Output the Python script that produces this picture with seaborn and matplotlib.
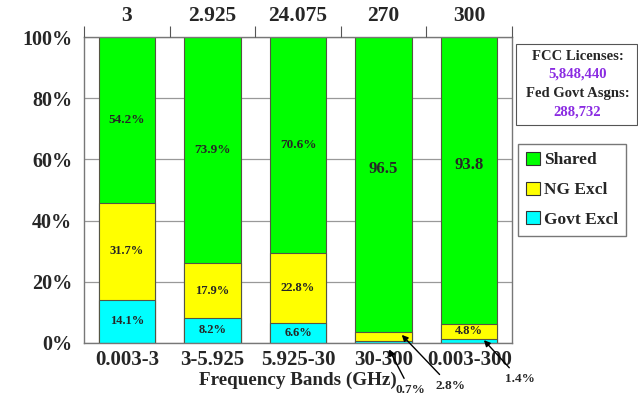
import numpy as np
import pandas as pd
import seaborn as sns
import matplotlib.pyplot as plt

bands = ['0.003-3', '3-5.925', '5.925-30', '30-300', '0.003-300']
widths = ['3', '2.925', '24.075', '270', '300']
govt_excl = [14.1, 8.2, 6.6, 0.7, 1.4]
ng_excl = [31.7, 17.9, 22.8, 2.8, 4.8]
shared = [54.2, 73.9, 70.6, 96.5, 93.8]
shared_labels = ['54.2%', '73.9%', '70.6%', '96.5', '93.8']
ng_labels = ['31.7%', '17.9%', '22.8%', '', '4.8%']
govt_labels = ['14.1%', '8.2%', '6.6%', '', '']

sns.set_style("white")
plt.rcParams['font.family'] = ['Liberation Serif', 'DejaVu Serif']
plt.rcParams['font.weight'] = 'bold'

df = pd.DataFrame({'band': bands, 'govt': govt_excl, 'ng': ng_excl, 'shared': shared})
df['ng_top'] = df['govt'] + df['ng']
df['total'] = df['ng_top'] + df['shared']

fig = plt.figure(figsize=(6.38, 3.99), dpi=100)
ax = fig.add_axes([0.1317, 0.1404, 0.6708, 0.7666])
ax.set_axisbelow(True)
ax.yaxis.grid(True, color='#999999', linewidth=0.9)

edge = '#555544'
bw = 0.66
sns.barplot(data=df, x='band', y='total', color='#00ff00', width=bw, saturation=1,
            edgecolor=edge, linewidth=0.8, ax=ax)
sns.barplot(data=df, x='band', y='ng_top', color='#ffff00', width=bw, saturation=1,
            edgecolor=edge, linewidth=0.8, ax=ax)
sns.barplot(data=df, x='band', y='govt', color='#00ffff', width=bw, saturation=1,
            edgecolor=edge, linewidth=0.8, ax=ax)

ax.set_xlim(-0.5, 4.5)
ax.set_ylim(0, 100)
ax.set_yticks(np.arange(0, 101, 20))
ax.set_yticklabels([f'{v}%' for v in range(0, 101, 20)], fontsize=14.5, fontweight='bold')
ax.tick_params(axis='y', direction='inout', length=9, color='#555555', pad=4)
ax.tick_params(axis='x', length=0, labelsize=15, pad=5)
for t in ax.get_xticklabels():
    t.set_fontweight('bold')
ax.set_xlabel('Frequency Bands (GHz)', fontsize=13.8, fontweight='bold', labelpad=1)
ax.set_ylabel('')
for s in ax.spines.values():
    s.set_color('#777777')
    s.set_linewidth(1.0)

# segment labels
for i in range(len(bands)):
    ax.text(i, govt_excl[i] / 2, govt_labels[i], ha='center', va='center', fontsize=9, fontweight='bold')
    ax.text(i, govt_excl[i] + ng_excl[i] / 2, ng_labels[i], ha='center', va='center',
            fontsize=9, fontweight='bold')
    big = i >= 3
    ax.text(i, govt_excl[i] + ng_excl[i] + shared[i] / 2 + (5 if big else 0), shared_labels[i],
            ha='center', va='center', fontsize=12 if big else 9.5, fontweight='bold')

# small segment callouts
arrow = dict(arrowstyle='-|>', color='black', lw=1, mutation_scale=9)
ax.annotate('0.7%', xy=(3.05, -1.3), xytext=(3.31, -15.4), fontsize=9.5, fontweight='bold',
            ha='center', va='center', arrowprops=arrow, annotation_clip=False)
ax.annotate('2.8%', xy=(3.19, 3.3), xytext=(3.78, -14), fontsize=9.5, fontweight='bold',
            ha='center', va='center', arrowprops=arrow, annotation_clip=False)
ax.annotate('1.4%', xy=(4.15, 1.6), xytext=(4.59, -11.8), fontsize=9.5, fontweight='bold',
            ha='center', va='center', arrowprops=arrow, annotation_clip=False)

# top axis with bandwidths
top = ax.twiny()
top.set_xlim(ax.get_xlim())
top.set_xticks(np.arange(-0.5, 5, 1))
top.set_xticklabels([])
top.set_xticks(np.arange(0, 5), minor=True)
top.set_xticklabels(widths, minor=True, fontsize=15.5, fontweight='bold')
top.tick_params(axis='x', which='major', direction='out', length=8, color='#555555')
top.tick_params(axis='x', which='minor', length=0, pad=8)
for s in top.spines.values():
    s.set_visible(False)

# info box
cx = 0.905
fig.text(cx, 1 - 56 / 399, 'FCC Licenses:', ha='center', va='center', fontsize=10.5, fontweight='bold')
fig.text(cx, 1 - 74 / 399, '5,848,440', ha='center', va='center', fontsize=10.5, fontweight='bold',
         color='#8a2be2')
fig.text(cx, 1 - 93 / 399, 'Fed Govt Asgns:', ha='center', va='center', fontsize=10.5, fontweight='bold')
fig.text(cx, 1 - 112 / 399, '288,732', ha='center', va='center', fontsize=10.5, fontweight='bold',
         color='#8a2be2')
box = plt.Rectangle((0.809, 0.687), 0.19, 0.203, transform=fig.transFigure, fill=False,
                    edgecolor='#555555', linewidth=0.8)
fig.add_artist(box)

# legend
handles = [plt.Rectangle((0, 0), 1, 1, facecolor=c, edgecolor='#333333', linewidth=0.8)
           for c in ['#00ff00', '#ffff00', '#00ffff']]
fig.legend(handles, ['Shared', 'NG Excl', 'Govt Excl'], loc='upper left',
           bbox_to_anchor=(0.812, 1 - 144 / 399), frameon=True, fancybox=False, edgecolor='#555555',
           prop={'size': 12.5, 'weight': 'bold'}, handlelength=0.8, handleheight=0.8,
           handletextpad=0.25, borderpad=0.45, borderaxespad=0, labelspacing=0.75)

fig.savefig('out.png', dpi=100)
